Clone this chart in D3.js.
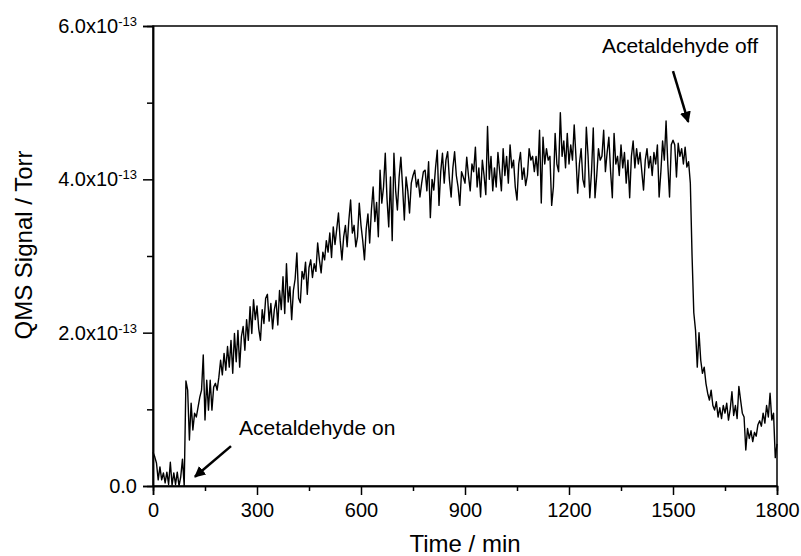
<!DOCTYPE html>
<html>
<head>
<meta charset="utf-8">
<script src="https://cdn.jsdelivr.net/npm/d3@7"></script>
<style>
  body { margin: 0; background: #fff; }
  text { font-family: "Liberation Sans", Arial, sans-serif; fill: #000; }
</style>
</head>
<body>
<div id="chart"></div>
<script>
// QMS signal (units of 1e-13 Torr), one reading every 5 min from 0 to 1800 min
const STEP = 5;
const signal = [
  0.44,0.38,0.30,0.08,0.25,0.08,0.17,0.04,0.18,0.02,0.31,0.01,0.17,0.02,0.18,0.00,0.12,0.35,0.00,1.37,
  1.25,0.60,1.08,0.73,0.95,0.90,1.03,1.16,1.25,1.71,0.86,1.38,0.99,1.38,0.99,1.29,1.34,1.25,1.42,1.64,
  1.45,1.73,1.51,1.82,1.55,1.90,1.47,1.99,1.62,2.03,1.55,1.95,2.08,1.77,2.17,1.90,2.34,1.99,2.43,2.17,
  2.35,2.05,1.90,2.30,2.12,2.45,2.50,2.15,2.38,2.05,2.30,2.42,2.10,2.55,2.30,2.73,2.25,2.90,2.40,2.60,
  2.17,2.55,2.70,3.04,2.45,2.39,2.80,2.70,2.92,2.50,2.85,2.95,2.72,2.90,2.80,3.17,2.95,2.78,3.05,2.95,
  3.20,3.05,3.30,2.98,3.38,3.15,3.35,3.56,3.20,2.95,3.25,3.40,3.12,3.47,3.73,3.30,3.40,3.12,3.25,3.69,
  3.40,3.20,2.95,3.35,3.55,3.17,3.60,3.90,3.45,3.70,3.25,4.12,3.69,3.90,4.34,3.75,3.38,4.03,3.20,4.34,
  3.85,3.60,4.03,4.29,3.90,3.47,4.03,3.85,3.56,3.95,4.05,4.12,3.90,4.00,3.77,3.95,4.10,4.12,3.85,4.23,
  3.50,4.00,3.86,4.15,4.38,3.66,4.10,4.34,3.95,4.25,4.36,4.00,3.77,4.15,4.36,4.05,3.90,3.66,4.10,4.03,
  3.95,4.29,4.05,3.85,4.20,4.10,4.42,3.90,4.15,3.77,4.25,4.05,3.80,4.69,4.00,4.30,3.85,4.15,3.90,4.35,
  4.10,3.85,4.40,4.05,4.30,3.95,4.45,4.15,4.25,3.90,3.73,4.20,4.35,4.00,4.15,3.92,4.05,4.40,4.25,4.30,
  4.10,4.30,4.05,4.64,3.69,4.55,4.20,4.40,4.25,4.30,3.66,3.90,4.60,4.20,4.10,4.87,4.30,4.50,4.15,4.60,
  4.20,4.45,4.25,4.71,4.30,3.82,4.20,4.40,4.00,3.90,4.68,4.30,3.76,4.10,4.67,3.76,4.05,4.40,4.25,4.30,
  4.64,4.10,4.35,4.55,4.10,3.76,4.60,4.20,4.30,4.05,4.45,4.15,4.35,3.95,4.25,3.76,4.30,4.50,4.15,4.40,
  4.20,4.35,4.10,3.86,4.25,4.40,4.15,4.30,4.05,4.35,4.20,4.45,3.77,4.10,4.50,4.25,4.76,4.20,3.77,4.45,
  4.51,4.45,4.03,4.47,4.30,4.40,4.20,4.42,4.16,4.23,3.95,3.00,2.26,2.03,1.55,2.00,1.64,1.47,1.55,1.34,
  1.21,1.12,1.25,1.05,0.99,1.10,0.90,1.02,0.88,1.05,0.95,1.08,0.86,1.00,1.23,0.92,1.05,0.88,1.30,1.12,
  0.95,0.90,0.47,0.75,0.62,0.72,0.58,0.70,0.65,0.80,0.85,0.78,0.95,0.82,1.05,0.90,1.21,0.86,0.95,0.37,
  0.55
];

const xTicks = [0, 300, 600, 900, 1200, 1500, 1800];
const xMinor = [150, 450, 750, 1050, 1350, 1650];
const yTicks = [0, 2, 4, 6];
const yMinor = [1, 3, 5];

// annotations: label position and arrow (tail -> head), in data units
const notes = [
  {text: "Acetaldehyde off", tx: 1295, ty: 5.65, from: [1500, 5.41], to: [1544, 4.75]},
  {text: "Acetaldehyde on", tx: 248, ty: 0.665, from: [225, 0.52], to: [121, 0.12]}
];

const width = 801, height = 556;
const margin = {top: 26, right: 24, bottom: 70, left: 153};
const w = width - margin.left - margin.right,
    h = height - margin.top - margin.bottom;

const svg = d3.select("#chart")
    .append("svg")
    .attr("width", width)
    .attr("height", height);

const g = svg.append("g")
    .attr("transform", `translate(${margin.left}, ${margin.top})`);

const x = d3.scaleLinear().domain([0, 1800]).range([0, w]);
const y = d3.scaleLinear().domain([0, 6]).range([h, 0]);

// frame
g.append("rect")
    .attr("width", w).attr("height", h)
    .attr("fill", "none").attr("stroke", "#000").attr("stroke-width", 1.5);

// X axis
const xAxis = g.append("g")
    .attr("transform", `translate(0, ${h})`)
    .call(d3.axisBottom(x).tickValues(xTicks).tickSize(9).tickPadding(8).tickFormat(d3.format("d")));
g.append("g")
    .attr("transform", `translate(0, ${h})`)
    .call(d3.axisBottom(x).tickValues(xMinor).tickSize(5).tickFormat(""));

// Y axis
g.append("g")
    .call(d3.axisLeft(y).tickValues(yTicks).tickSize(10).tickFormat(""));
g.append("g")
    .call(d3.axisLeft(y).tickValues(yMinor).tickSize(6).tickFormat(""));

g.selectAll(".domain").attr("stroke", "#000").attr("stroke-width", 1.5);
g.selectAll(".tick line").attr("stroke", "#000").attr("stroke-width", 1.5);

xAxis.selectAll(".tick text")
    .style("font-size", "20px")
    .style("font-family", "Liberation Sans, Arial, sans-serif")
    .attr("fill", "#000");

// y tick labels with superscript exponent
yTicks.forEach(v => {
  const t = g.append("text")
      .attr("x", -16)
      .attr("y", y(v))
      .attr("dy", "0.35em")
      .attr("text-anchor", "end")
      .style("font-size", "20px");
  if (v === 0) {
    t.text("0.0");
  } else {
    t.append("tspan").text(`${v.toFixed(1)}x10`);
    t.append("tspan").attr("dy", "-0.55em").style("font-size", "13px").text("-13");
  }
});

// data line
const line = d3.line()
    .x((d, i) => x(i * STEP))
    .y(d => y(d));
g.append("path")
    .datum(signal)
    .attr("fill", "none")
    .attr("stroke", "#000")
    .attr("stroke-width", 1.4)
    .attr("stroke-linejoin", "round")
    .attr("d", line);

// arrowhead marker
svg.append("defs").append("marker")
    .attr("id", "arrow")
    .attr("viewBox", "0 0 10 10")
    .attr("refX", 9).attr("refY", 5)
    .attr("markerWidth", 4.5).attr("markerHeight", 4.5)
    .attr("orient", "auto")
    .append("path")
    .attr("d", "M0,0 L10,5 L0,10 z")
    .attr("fill", "#000");

notes.forEach(n => {
  g.append("text")
      .attr("x", x(n.tx)).attr("y", y(n.ty))
      .style("font-size", "21px")
      .text(n.text);
  g.append("line")
      .attr("x1", x(n.from[0])).attr("y1", y(n.from[1]))
      .attr("x2", x(n.to[0])).attr("y2", y(n.to[1]))
      .attr("stroke", "#000").attr("stroke-width", 2.5)
      .attr("marker-end", "url(#arrow)");
});

// axis titles
svg.append("text")
    .attr("x", 465)
    .attr("y", 552)
    .attr("text-anchor", "middle")
    .style("font-size", "24px")
    .text("Time / min");

svg.append("text")
    .attr("transform", "translate(32, 245) rotate(-90)")
    .attr("text-anchor", "middle")
    .style("font-size", "24px")
    .text("QMS Signal / Torr");
</script>
</body>
</html>
